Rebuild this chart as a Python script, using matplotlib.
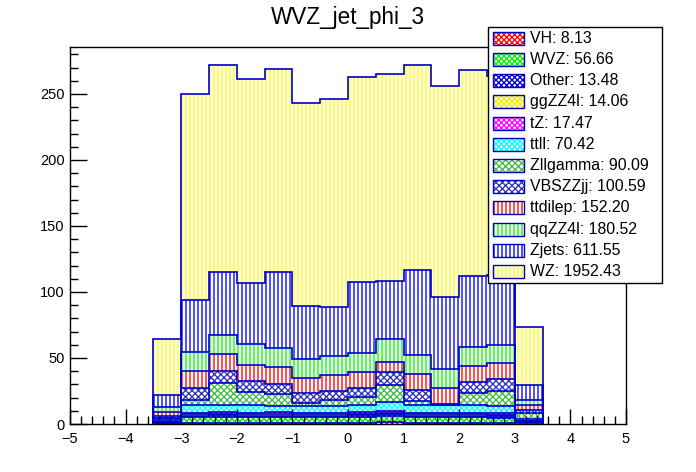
import matplotlib
matplotlib.use('Agg')
import matplotlib.pyplot as plt
import numpy as np
from matplotlib.patches import Rectangle
from matplotlib.ticker import MultipleLocator

DPI = 96
S = 100 / DPI  # keep pixel sizes as designed for 100 dpi

plt.rcParams['font.family'] = ['Liberation Sans', 'DejaVu Sans']
plt.rcParams['hatch.linewidth'] = 1.0

# ---------------- data ----------------
bin_edges = [-3.5, -3.0, -2.5, -2.0, -1.5, -1.0, -0.5, 0.0, 0.5, 1.0, 1.5, 2.0, 2.5, 3.0, 3.5]

names = ['VH', 'WVZ', 'Other', 'ggZZ4l', 'tZ', 'ttll', 'Zllgamma', 'VBSZZjj',
         'ttdilep', 'qqZZ4l', 'Zjets', 'WZ']
yields = [8.13, 56.66, 13.48, 14.06, 17.47, 70.42, 90.09, 100.59,
          152.20, 180.52, 611.55, 1952.43]

vh       = [0.3, 0.6, 0.6, 0.6, 0.6, 0.6, 0.5, 0.6, 1.2, 0.6, 0.6, 0.6, 0.5, 0.2]
wvz      = [0.8, 4.6, 4.5, 4.5, 4.7, 4.5, 4.6, 4.8, 4.8, 4.6, 4.5, 4.5, 4.3, 1.0]
other    = [0.4, 1.0, 1.6, 1.0, 1.0, 1.0, 1.0, 1.1, 1.2, 1.0, 1.0, 1.0, 0.9, 0.3]
ggzz4l   = [0.3, 1.1, 1.0, 1.1, 1.1, 1.1, 1.1, 1.1, 1.2, 1.1, 1.1, 1.1, 1.1, 0.4]
tz       = [0.3, 1.4, 1.3, 1.4, 1.4, 1.4, 1.4, 1.4, 1.4, 1.4, 1.3, 1.4, 1.4, 0.4]
ttll     = [1.4, 5.5, 5.7, 5.6, 4.8, 5.0, 5.3, 5.4, 6.6, 5.7, 5.7, 6.1, 5.7, 1.7]
zllgamma = [1.3, 4.0, 16.5, 9.8, 9.1, 2.3, 4.0, 6.1, 12.8, 2.7, 0.4, 8.8, 11.0, 4.3]
vbszzjj  = [1.0, 9.1, 8.7, 8.3, 7.6, 7.6, 7.3, 6.8, 10.2, 8.9, 0.2, 8.0, 9.2, 2.5]
ttdilep  = [3.5, 12.8, 13.1, 12.4, 12.9, 11.3, 12.1, 12.1, 7.6, 12.1, 12.5, 12.7, 12.1, 3.6]
qqzz4l   = [3.3, 14.1, 14.4, 15.9, 14.4, 14.4, 14.4, 14.4, 17.4, 14.2, 14.4, 14.1, 13.6, 3.8]
zjets    = [9.4, 40.0, 47.8, 46.2, 57.6, 40.2, 36.9, 53.8, 44.2, 64.4, 54.5, 53.8, 53.2, 11.3]
wz       = [42.5, 155.8, 156.8, 154.6, 153.8, 153.8, 157.6, 155.3, 156.6, 155.3, 159.8, 156.1, 150.4, 44.1]

series = [vh, wvz, other, ggzz4l, tz, ttll, zllgamma, vbszzjj, ttdilep, qqzz4l, zjets, wz]

# ---------------- style ----------------
hatch_colors = ['#ff0000', '#00ee00', '#0000cc', '#eeee00', '#ff00ff', '#00ffff',
                '#44bb44', '#3333bb', '#ff0000', '#00ff00', '#0000ff', '#ffff00']
hatches = ['xxxxxx', 'xxxxxx', 'xxxxxx', 'xxxxxx', 'xxxxxx', 'xxxxxx',
           'xxxxx', 'xxxxx', '||||', '||||', '||||', '||||']
line_col = '#0000cc'

W, H = 696, 472
fig = plt.figure(figsize=(W / DPI, H / DPI), dpi=DPI)
ax = fig.add_axes([70 / W, 1 - 424 / H, (626 - 70) / W, (424 - 47) / H])

edges = np.array(bin_edges)
widths = np.diff(edges)
bottom = np.zeros(len(widths))
tops = []
for vals, hc, h in zip(series, hatch_colors, hatches):
    v = np.array(vals)
    ax.bar(edges[:-1], v, width=widths, bottom=bottom, align='edge',
           facecolor='white', edgecolor=hc, hatch=h, linewidth=0, zorder=1)
    bottom = bottom + v
    tops.append(bottom.copy())

for t in tops:
    ax.stairs(t, edges, baseline=0, color=line_col, lw=1.2 * S, zorder=2)

ax.set_xlim(-5, 5)
ax.set_ylim(0, 285.6)
ax.xaxis.set_major_locator(MultipleLocator(1))
ax.xaxis.set_minor_locator(MultipleLocator(0.2))
ax.yaxis.set_major_locator(MultipleLocator(50))
ax.yaxis.set_minor_locator(MultipleLocator(10))
ax.tick_params(axis='both', which='both', direction='in', top=False, right=False,
               labelsize=10.5 * S, width=1 * S, colors='black')
ax.tick_params(axis='x', which='major', length=11 * S, pad=6 * S)
ax.tick_params(axis='x', which='minor', length=5.5 * S)
ax.tick_params(axis='y', which='major', length=12 * S, pad=4 * S)
ax.tick_params(axis='y', which='minor', length=6 * S)
for s in ax.spines.values():
    s.set_linewidth(1 * S)
    s.set_zorder(5)

# title
fig.text(348 / W, 1 - 24 / H, 'WVZ_jet_phi_3', ha='center', va='baseline', fontsize=16.2 * S)

# legend (drawn manually, ROOT style)
lx0, lx1, ly0, ly1 = 487.5, 661.5, 27, 282.5
fig.add_artist(Rectangle((lx0 / W, 1 - ly1 / H), (lx1 - lx0) / W, (ly1 - ly0) / H,
                         transform=fig.transFigure, facecolor='white',
                         edgecolor='black', lw=1 * S, zorder=10))
for i, (nm, yv, hc, h) in enumerate(zip(names, yields, hatch_colors, hatches)):
    yc = 38.3 + i * 21.2
    bx0, bx1 = 493, 524
    rect = (bx0 / W, 1 - (yc + 6.5) / H)
    fig.add_artist(Rectangle(rect, (bx1 - bx0) / W, 13 / H, transform=fig.transFigure,
                             facecolor='white', edgecolor=hc, hatch=h, lw=0, zorder=11))
    fig.add_artist(Rectangle(rect, (bx1 - bx0) / W, 13 / H, transform=fig.transFigure,
                             fill=False, edgecolor=line_col, lw=1 * S, zorder=12))
    fig.text(530 / W, 1 - yc / H, f'{nm}: {yv:.2f}', ha='left', va='center',
             fontsize=11.4 * S, zorder=13)

fig.savefig('out.png', dpi=DPI)
